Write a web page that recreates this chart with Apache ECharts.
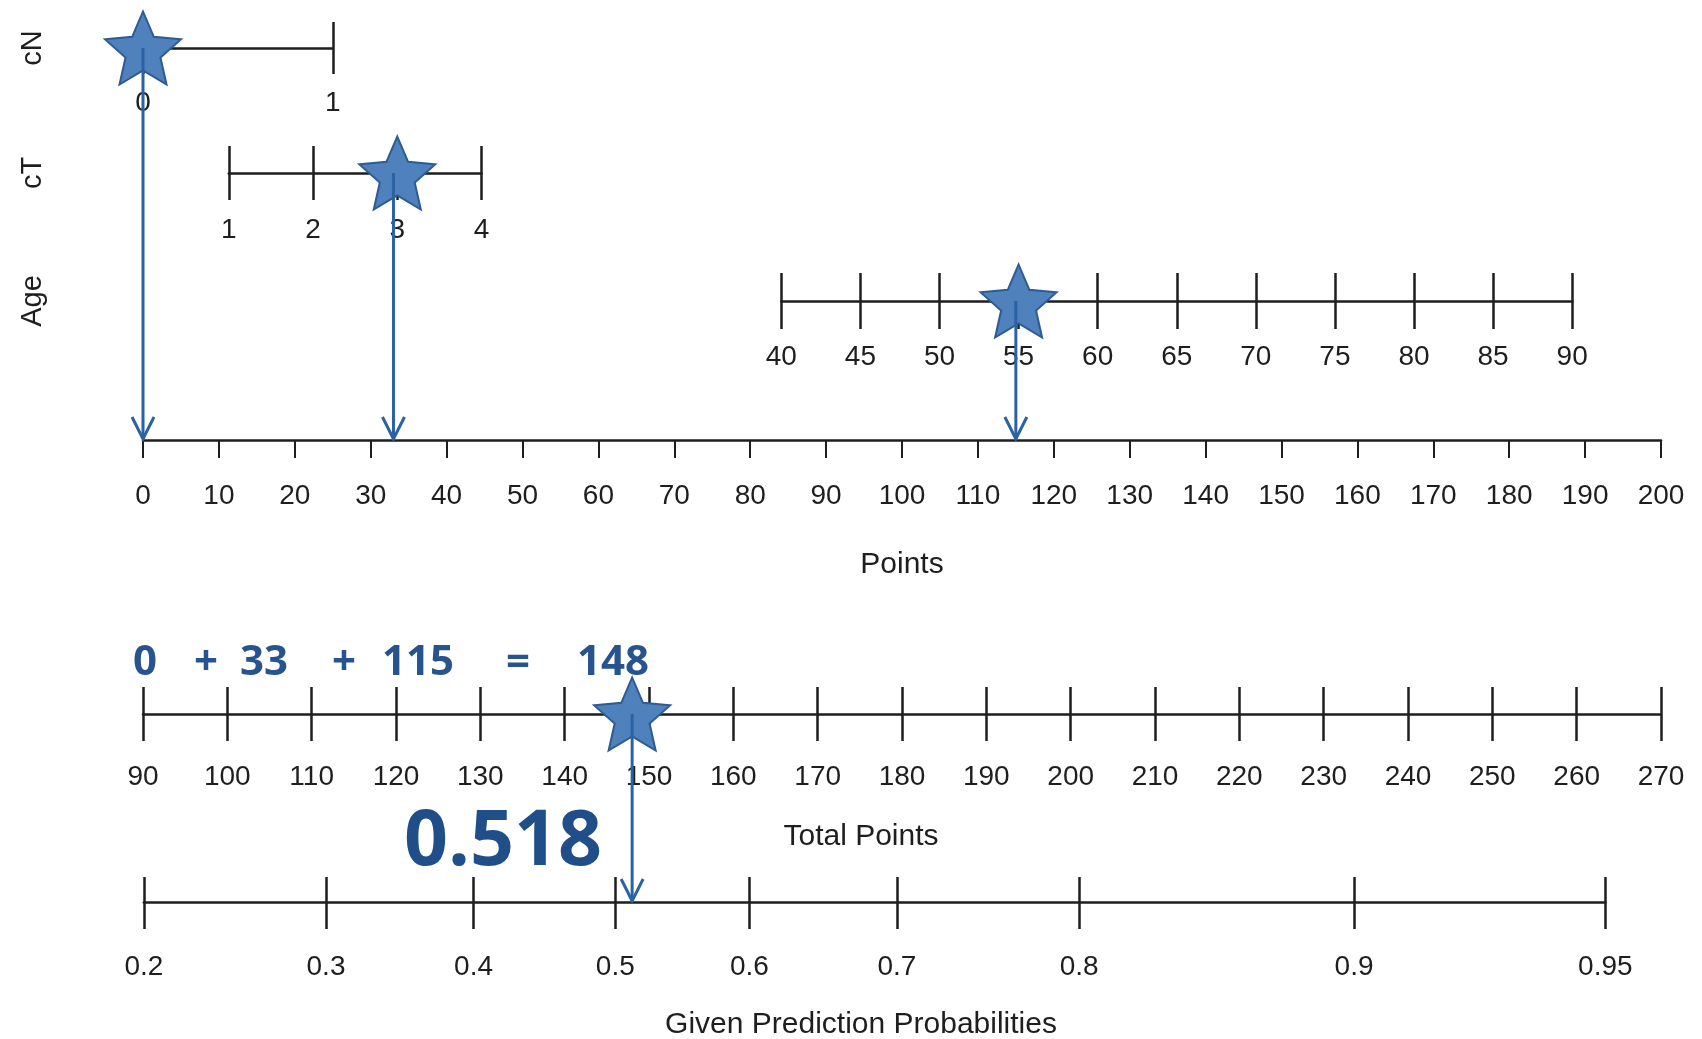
<!DOCTYPE html>
<html><head><meta charset="utf-8">
<script src="https://cdn.jsdelivr.net/npm/echarts@6/dist/echarts.min.js"></script>
<style>html,body{margin:0;padding:0;background:#fff}#c{width:1702px;height:1039px}</style>
</head><body><div id="c"></div>
<script>
// ---------------- data ----------------
const cnLevels = [0, 1];
const cnPoints = [0, 25];                     // points of cN = 0 and cN = 1
const ctLevels = [1, 2, 3, 4];
const ctPoints = [11.3, 22.4, 33.4, 44.6];    // points of cT 1..4
const ageTicks = [40, 45, 50, 55, 60, 65, 70, 75, 80, 85, 90];
const agePoints = [84.1, 188.3];              // points of age 40 and age 90
const pointsTicks = [0, 10, 20, 30, 40, 50, 60, 70, 80, 90, 100, 110, 120, 130, 140, 150, 160, 170, 180, 190, 200];
const totalTicks = [90, 100, 110, 120, 130, 140, 150, 160, 170, 180, 190, 200, 210, 220, 230, 240, 250, 260, 270];
const probLabels = ['0.2', '0.3', '0.4', '0.5', '0.6', '0.7', '0.8', '0.9', '0.95'];
const probAtTotal = [90.1, 111.7, 129.2, 146.0, 161.9, 179.4, 201.0, 233.6, 263.4];
const rowNames = ['cN', 'cT', 'Age'];
const patientValues = [0, 3, 55];             // cN, cT, Age of the example patient
const patientPoints = [0, 33, 115];
const patientTotal = 148;
const patientProb = '0.518';

// ---------------- layout / style ----------------
const FONT = 'Liberation Sans, Arial, Helvetica, sans-serif';
const BOLD = '"Open Sans", "Noto Sans", sans-serif';
const INK = '#1e1e1e';
const STAR_FILL = '#4f81bd';
const STAR_EDGE = '#2d5b92';
const ARROW = '#2a62a3';
const NAVY = '#1f4e89';
const PL = 143, PR = 1661;                      // pixel span of Points 0..200 and Total 90..270
const H = 1039;
const pMin = pointsTicks[0], pMax = pointsTicks[pointsTicks.length - 1];
const tMin = totalTicks[0], tMax = totalTicks[totalTicks.length - 1];
const pxP = p => PL + (PR - PL) * (p - pMin) / (pMax - pMin);
const pxT = t => PL + (PR - PL) * (t - tMin) / (tMax - tMin);
const Y = { cN: 48, cT: 173, Age: 301, Points: 440, Total: 714, Prob: 902 };

// star symbol
function starPath() {
  const pts = [];
  for (let i = 0; i < 10; i++) {
    const r = i % 2 === 0 ? 50 : 23;
    const a = -Math.PI / 2 + i * Math.PI / 5;
    pts.push((50 + r * Math.cos(a)).toFixed(2) + ',' + (50 + r * Math.sin(a)).toFixed(2));
  }
  return 'path://M' + pts.join(' L') + ' Z';
}
const STAR = starPath();

const grids = [], xAxes = [], yAxes = [], series = [];

function addScale(cfg) {
  const gi = grids.length;
  const h = Math.max(cfg.up, 10);
  grids.push({ left: cfg.left, width: cfg.right - cfg.left, top: cfg.y - h, height: h, containLabel: false });
  yAxes.push({ gridIndex: gi, type: 'value', min: 0, max: 1, show: false });
  const base = { gridIndex: gi, type: 'value', position: 'bottom', min: cfg.min, max: cfg.max, splitLine: { show: false } };
  if (cfg.interval != null) base.interval = cfg.interval;
  const labIdx = xAxes.length;
  xAxes.push(Object.assign({}, base, {
    axisLine: { show: true, lineStyle: { color: INK, width: 2.5 } },
    axisTick: Object.assign({ show: true, inside: false, length: cfg.down, lineStyle: { color: INK, width: cfg.tickWidth || 2.5 } },
      cfg.customValues ? { customValues: cfg.customValues } : {}),
    axisLabel: Object.assign({ show: true, margin: cfg.labelMargin, color: INK, fontSize: 28, fontFamily: FONT,
      showMinLabel: true, showMaxLabel: true, hideOverlap: false },
      cfg.customValues ? { customValues: cfg.customValues } : {},
      cfg.formatter ? { formatter: cfg.formatter } : {})
  }));
  if (cfg.up > 0) {
    xAxes.push(Object.assign({}, base, {
      axisLine: { show: false },
      axisTick: Object.assign({ show: true, inside: true, length: cfg.up, lineStyle: { color: INK, width: cfg.tickWidth || 2.5 } },
        cfg.customValues ? { customValues: cfg.customValues } : {}),
      axisLabel: { show: false }
    }));
  }
  return { gi, xi: labIdx, yi: gi };
}

const sCN = addScale({ left: pxP(cnPoints[0]), right: pxP(cnPoints[1]), y: Y.cN, up: 26, down: 26,
  min: cnLevels[0], max: cnLevels[cnLevels.length - 1], interval: 1, labelMargin: 41 });
const sCT = addScale({ left: pxP(ctPoints[0]), right: pxP(ctPoints[ctPoints.length - 1]), y: Y.cT, up: 27, down: 27,
  min: ctLevels[0], max: ctLevels[ctLevels.length - 1], interval: 1, labelMargin: 43 });
const sAge = addScale({ left: pxP(agePoints[0]), right: pxP(agePoints[1]), y: Y.Age, up: 28, down: 28,
  min: ageTicks[0], max: ageTicks[ageTicks.length - 1], interval: 5, labelMargin: 42 });
const sPts = addScale({ left: PL, right: PR, y: Y.Points, up: 0, down: 18, tickWidth: 2,
  min: pMin, max: pMax, interval: 10, labelMargin: 42 });
const sTot = addScale({ left: PL, right: PR, y: Y.Total, up: 27, down: 27,
  min: tMin, max: tMax, interval: 10, labelMargin: 49 });
const sProb = addScale({ left: pxT(probAtTotal[0]), right: pxT(probAtTotal[probAtTotal.length - 1]), y: Y.Prob, up: 25, down: 27,
  min: probAtTotal[0], max: probAtTotal[probAtTotal.length - 1], labelMargin: 51, customValues: probAtTotal,
  formatter: v => { let b = 0; probAtTotal.forEach((t, i) => { if (Math.abs(t - v) < Math.abs(probAtTotal[b] - v)) b = i; }); return probLabels[b]; } });

// overlay grid for the arrows (x in Points / Total units, y in layout units)
const ovG = grids.length;
grids.push({ left: PL, width: PR - PL, top: 0, height: H });
const ovY = yAxes.length;
yAxes.push({ gridIndex: ovG, type: 'value', min: 0, max: H, inverse: true, show: false });
const ovXP = xAxes.length;
xAxes.push({ gridIndex: ovG, type: 'value', min: pMin, max: pMax, show: false });
const ovXT = xAxes.length;
xAxes.push({ gridIndex: ovG, type: 'value', min: tMin, max: tMax, show: false });

// stars
[[sCN, patientValues[0]], [sCT, patientValues[1]], [sAge, patientValues[2]], [sTot, patientTotal]].forEach(([s, v]) => {
  series.push({ type: 'scatter', xAxisIndex: s.xi, yAxisIndex: s.yi, data: [[v, 0]], symbol: STAR, symbolSize: [76, 73],
    itemStyle: { color: STAR_FILL, borderColor: STAR_EDGE, borderWidth: 2, opacity: 1 }, z: 5, silent: true, clip: false });
});

function arrowRender(params, api) {
  const p0 = api.coord([api.value(0), api.value(1)]);
  const p1 = api.coord([api.value(0), api.value(2)]);
  return { type: 'group', children: [
    { type: 'line', shape: { x1: p0[0], y1: p0[1], x2: p1[0], y2: p1[1] - 1 }, style: { stroke: ARROW, lineWidth: 3 } },
    { type: 'polyline', shape: { points: [[p1[0] - 11, p1[1] - 23], [p1[0], p1[1] - 1], [p1[0] + 11, p1[1] - 23]] },
      style: { stroke: ARROW, lineWidth: 3, fill: null } }
  ] };
}
series.push({ type: 'custom', xAxisIndex: ovXP, yAxisIndex: ovY, renderItem: arrowRender, z: 6, silent: true, clip: false,
  data: [[patientPoints[0], Y.cN, Y.Points], [patientPoints[1], Y.cT, Y.Points], [patientPoints[2], Y.Age, Y.Points]] });
series.push({ type: 'custom', xAxisIndex: ovXT, yAxisIndex: ovY, renderItem: arrowRender, z: 6, silent: true, clip: false,
  data: [[patientTotal, Y.Total, Y.Prob]] });

// text annotations
const graphic = [];
rowNames.forEach(n => graphic.push({ type: 'text', x: 33, y: Y[n], rotation: Math.PI / 2,
  style: { text: n, font: '29px ' + FONT, fill: INK, align: 'center', verticalAlign: 'middle' } }));
[['Points', 902, 565], ['Total Points', 861, 837], ['Given Prediction Probabilities', 861, 1025]].forEach(([t, x, y]) =>
  graphic.push({ type: 'text', x, y, style: { text: t, font: '30px ' + FONT, fill: INK, align: 'center', verticalAlign: 'middle' } }));
const eq = [String(patientPoints[0]), '+', String(patientPoints[1]), '+', String(patientPoints[2]), '=', String(patientTotal)];
const eqX = [145, 206, 264, 344, 418, 518, 613];
eq.forEach((t, i) => graphic.push({ type: 'text', x: eqX[i], y: 663,
  style: { text: t, font: 'bold 42px ' + BOLD, fill: '#27548f', align: 'center', verticalAlign: 'middle' } }));
graphic.push({ type: 'text', x: 503, y: 843, style: { text: patientProb, font: 'bold 77px ' + BOLD, fill: NAVY, align: 'center', verticalAlign: 'middle' } });

const chart = echarts.init(document.getElementById('c'), null, { renderer: 'canvas' });
chart.setOption({ animation: false, backgroundColor: '#ffffff', grid: grids, xAxis: xAxes, yAxis: yAxes, series, graphic });
</script></body></html>
